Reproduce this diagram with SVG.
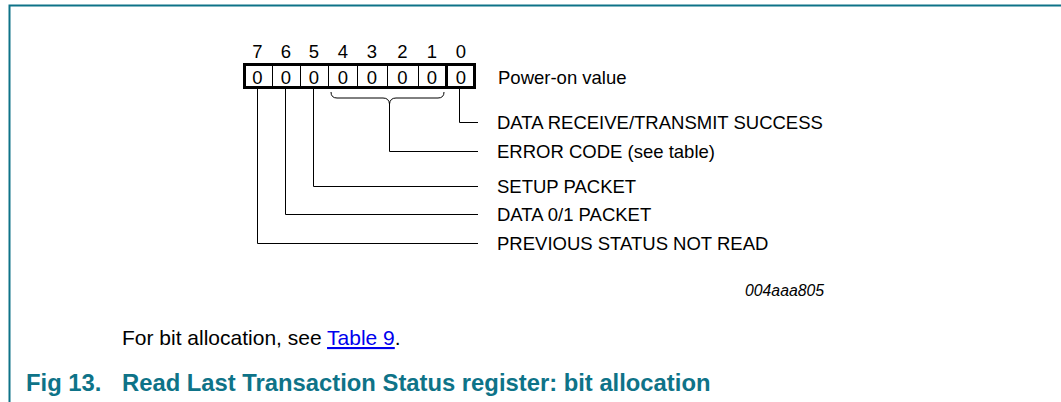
<svg xmlns="http://www.w3.org/2000/svg" width="1061" height="402" viewBox="0 0 1061 402">
<style>
.t{font-family:"Liberation Sans",Arial,sans-serif;font-size:18.5px;fill:#000}
.c{text-anchor:middle}
.ln{fill:none;stroke:#000;stroke-width:1}
.thin{stroke:#000;stroke-width:1}
.thick{fill:none;stroke:#000;stroke-width:3}
.frame{fill:none;stroke:#0e7388;stroke-width:2}
</style>
<rect width="1061" height="402" fill="#fff"/>
<path class="frame" d="M9.5 402 V5.5 H1061"/>
<g id="register">
  <g class="t c">
    <text x="257.5" y="58">7</text><text x="286" y="58">6</text><text x="314" y="58">5</text><text x="343" y="58">4</text>
    <text x="372" y="58">3</text><text x="402.5" y="58">2</text><text x="432" y="58">1</text><text x="461" y="58">0</text>
    <text x="257.5" y="83.5">0</text><text x="286" y="83.5">0</text><text x="314" y="83.5">0</text><text x="343" y="83.5">0</text>
    <text x="372" y="83.5">0</text><text x="402.5" y="83.5">0</text><text x="432" y="83.5">0</text><text x="461" y="83.5">0</text>
  </g>
  <path class="thin" d="M272.5 64 V88 M300.5 64 V88 M328.5 64 V88 M357.5 64 V88 M387.5 64 V88 M418.5 64 V88"/>
  <path class="thick" d="M446.5 64 V88"/>
  <rect class="thick" x="244.5" y="64.5" width="230" height="23"/>
  <text class="t" x="498" y="83.5">Power-on value</text>
</g>
<g id="connectors">
  <path class="ln" d="M459.5 89 V122.5 H478"/>
  <path class="ln" d="M331 92 Q331 98 337 98 H383 Q389 98 389.5 104 Q390 98 396 98 H438 Q444 98 444 92"/>
  <path class="ln" d="M389.5 104 V151.5 H478"/>
  <path class="ln" d="M313.5 89 V186.5 H478"/>
  <path class="ln" d="M285.5 89 V214.5 H478"/>
  <path class="ln" d="M257.5 89 V243.5 H478"/>
</g>
<g id="labels" class="t">
  <text x="497" y="129">DATA RECEIVE/TRANSMIT SUCCESS</text>
  <text x="497" y="158">ERROR CODE (see table)</text>
  <text x="497" y="193">SETUP PACKET</text>
  <text x="497" y="221">DATA 0/1 PACKET</text>
  <text x="497" y="250">PREVIOUS STATUS NOT READ</text>
</g>
<text x="745" y="296" style="font-family:'Liberation Sans',Arial,sans-serif;font-size:15.8px;font-style:italic">004aaa805</text>
<text class="t" x="122" y="345" style="font-size:21px">For bit allocation, see <tspan fill="#0000ee" text-decoration="underline">Table 9</tspan>.</text>
<text x="26" y="391" style="font-family:'Liberation Sans',Arial,sans-serif;font-size:23.8px;font-weight:bold;fill:#0e7388">Fig 13.<tspan x="122">Read Last Transaction Status register: bit allocation</tspan></text>
</svg>
